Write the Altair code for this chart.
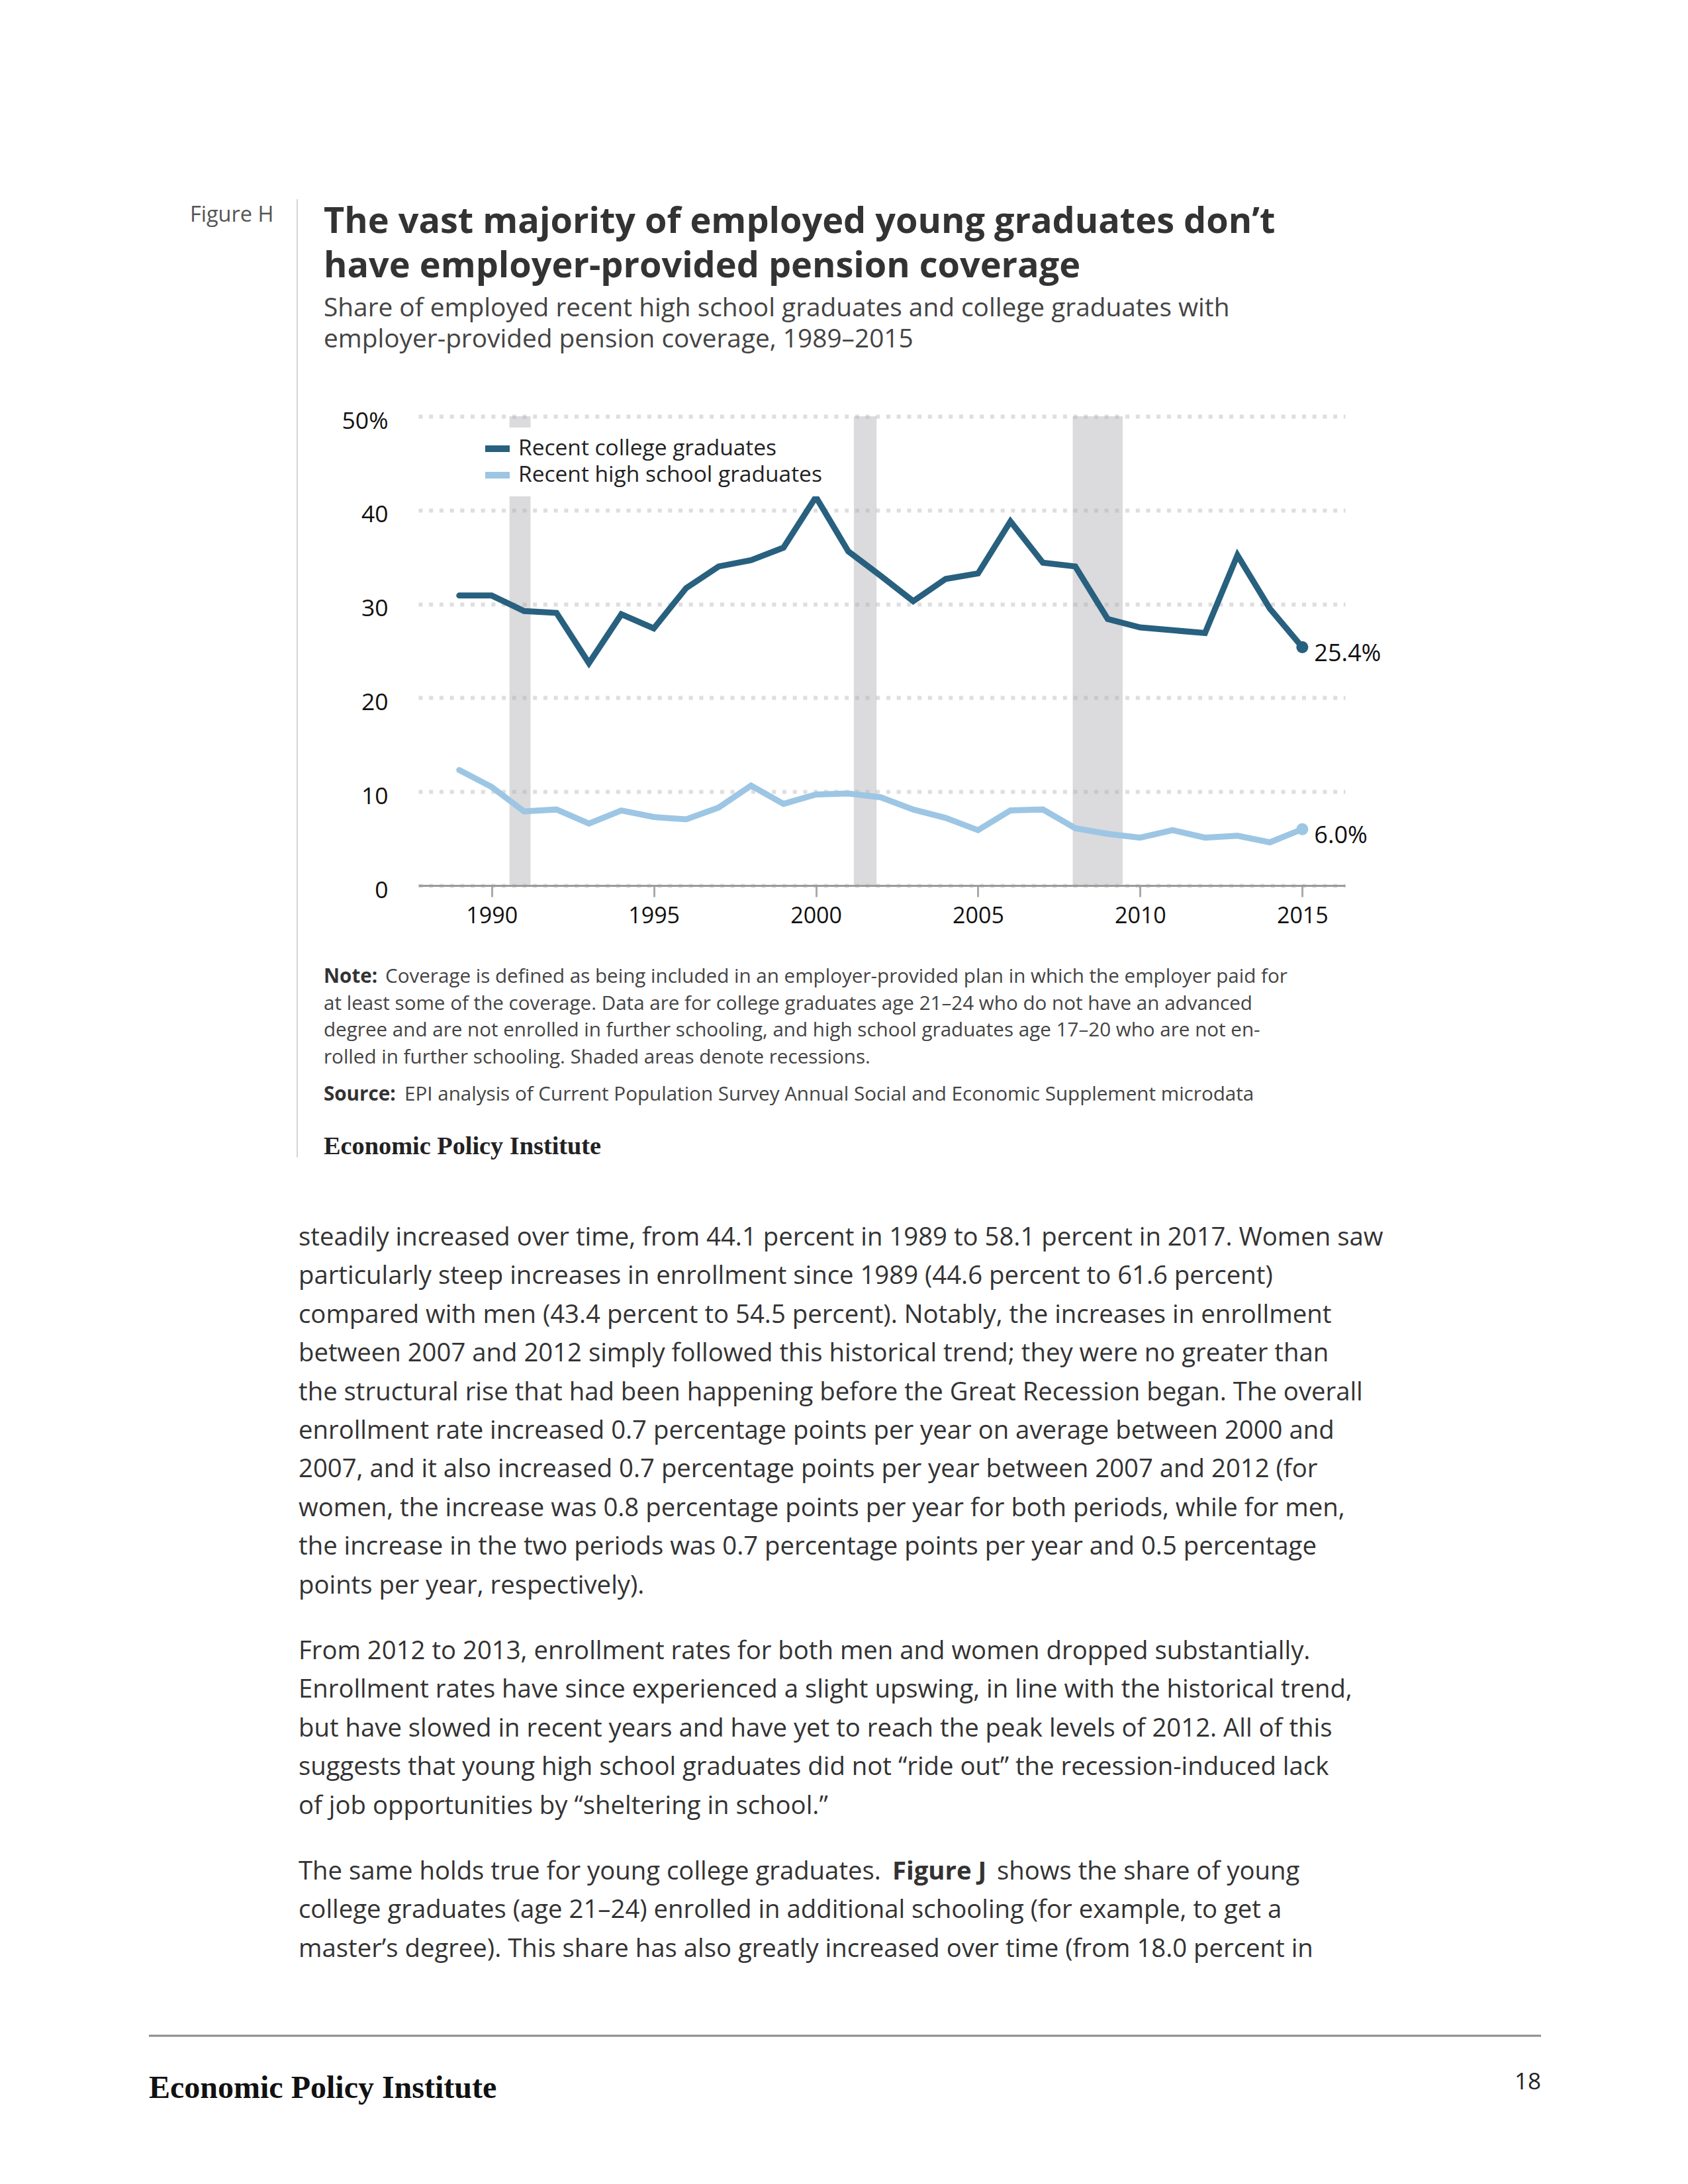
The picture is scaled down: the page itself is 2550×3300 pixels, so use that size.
import altair as alt
import pandas as pd

# ---------------- data ----------------
years = list(range(1989, 2016))
college = [30.9, 30.9, 29.25, 29.05, 23.7, 28.9, 27.4, 31.7, 34.0, 34.66, 36.0, 41.4,
           35.6, 33.0, 30.3, 32.66, 33.25, 38.8, 34.4, 34.0, 28.4, 27.5, 27.2, 26.9,
           35.2, 29.5, 25.4]
highschool = [12.3, 10.5, 7.9, 8.1, 6.6, 8.0, 7.3, 7.05, 8.3, 10.65, 8.7, 9.7,
              9.8, 9.4, 8.1, 7.2, 5.9, 8.0, 8.1, 6.1, 5.5, 5.1, 5.9, 5.1,
              5.3, 4.6, 6.0]
series_names = ["Recent college graduates", "Recent high school graduates"]
series_colors = ["#28607f", "#9cc6e4"]

recession_start = [1990.55, 2001.17, 2007.92]
recession_end = [1991.2, 2001.87, 2009.46]

x_ticks = [1990, 1995, 2000, 2005, 2010, 2015]
y_ticks = [0, 10, 20, 30, 40, 50]

figure_label = "Figure H"
title_lines = ["The vast majority of employed young graduates don’t",
               "have employer-provided pension coverage"]
subtitle_lines = ["Share of employed recent high school graduates and college graduates with",
                  "employer-provided pension coverage, 1989–2015"]
note_label = "Note:"
note_first = "Coverage is defined as being included in an employer-provided plan in which the employer paid for"
note_rest = ["at least some of the coverage. Data are for college graduates age 21–24 who do not have an advanced",
             "degree and are not enrolled in further schooling, and high school graduates age 17–20 who are not en-",
             "rolled in further schooling. Shaded areas denote recessions."]
source_label = "Source:"
source_text = "EPI analysis of Current Population Survey Annual Social and Economic Supplement microdata"
org_name = "Economic Policy Institute"

para1 = ["steadily increased over time, from 44.1 percent in 1989 to 58.1 percent in 2017. Women saw",
         "particularly steep increases in enrollment since 1989 (44.6 percent to 61.6 percent)",
         "compared with men (43.4 percent to 54.5 percent). Notably, the increases in enrollment",
         "between 2007 and 2012 simply followed this historical trend; they were no greater than",
         "the structural rise that had been happening before the Great Recession began. The overall",
         "enrollment rate increased 0.7 percentage points per year on average between 2000 and",
         "2007, and it also increased 0.7 percentage points per year between 2007 and 2012 (for",
         "women, the increase was 0.8 percentage points per year for both periods, while for men,",
         "the increase in the two periods was 0.7 percentage points per year and 0.5 percentage",
         "points per year, respectively)."]
para2 = ["From 2012 to 2013, enrollment rates for both men and women dropped substantially.",
         "Enrollment rates have since experienced a slight upswing, in line with the historical trend,",
         "but have slowed in recent years and have yet to reach the peak levels of 2012. All of this",
         "suggests that young high school graduates did not “ride out” the recession-induced lack",
         "of job opportunities by “sheltering in school.”"]
para3_a = "The same holds true for young college graduates. "
para3_bold = "Figure J"
para3_b = " shows the share of young"
para3_rest = ["college graduates (age 21–24) enrolled in additional schooling (for example, to get a",
              "master’s degree). This share has also greatly increased over time (from 18.0 percent in"]
page_number = "18"

# ---------------- tables ----------------
df = pd.DataFrame({
    "year": years * 2,
    "value": college + highschool,
    "series": [series_names[0]] * len(years) + [series_names[1]] * len(years),
})
rec = pd.DataFrame({"start": recession_start, "end": recession_end})
one = pd.DataFrame({"k": [0]})

FONT = "Open Sans"
SERIF = "Liberation Serif"

x_scale = alt.Scale(domain=[1987.74, 2016.32], nice=False, zero=False)
y_scale = alt.Scale(domain=[0, 50], nice=False)
x_axis = alt.Axis(values=x_ticks, format="d", title=None, grid=False, tickSize=17,
                  tickColor="#aaaaaa", tickWidth=3, domainColor="#9a9a9a", domainWidth=3,
                  labelFontSize=34, labelColor="#111111", labelPadding=12, labelFont=FONT)
y_axis = alt.Axis(values=y_ticks, title=None, domain=False, ticks=False, labelPadding=46,
                  labelFontSize=35.5, labelColor="#111111", labelFont=FONT, labelOffset=7,
                  labelExpr="datum.value == 50 ? '50%' : datum.label",
                  grid=True, gridColor="#dedede", gridWidth=6, gridDash=[6, 9.7])

color_scale = alt.Scale(domain=series_names, range=series_colors)

recessions = alt.Chart(rec).mark_rect(color="#a9a7ab", opacity=0.42).encode(
    x=alt.X("start:Q", scale=x_scale, axis=x_axis),
    x2="end:Q",
    y=alt.Y(datum=50, scale=y_scale, axis=y_axis),
    y2=alt.datum(0),
)

lines = alt.Chart(df).mark_line(strokeWidth=9, strokeCap="round", strokeJoin="miter").encode(
    x=alt.X("year:Q", scale=x_scale, axis=x_axis),
    y=alt.Y("value:Q", scale=y_scale, axis=y_axis),
    color=alt.Color("series:N", scale=color_scale, sort=series_names,
                    legend=alt.Legend(orient="none", legendX=84, legendY=17, title=None,
                                      fillColor="white", padding=12, symbolType="stroke",
                                      symbolStrokeWidth=10, symbolSize=1369,
                                      labelFontSize=33.5, labelFont=FONT, labelColor="#222222",
                                      clipHeight=40, rowPadding=0, labelOffset=8,
                                      labelLimit=800)),
    detail="series:N",
)

last = df[df["year"] == years[-1]]
points = alt.Chart(last).mark_point(filled=True, size=330, opacity=1, shape="circle").encode(
    x=alt.X("year:Q", scale=x_scale),
    y=alt.Y("value:Q", scale=y_scale),
    color=alt.Color("series:N", scale=color_scale, legend=None),
)
end_labels = alt.Chart(last).transform_calculate(
    lab="format(datum.value, '.1f') + '%'"
).mark_text(align="left", baseline="middle", dx=18, dy=10, fontSize=36, font=FONT,
            color="#111111").encode(
    x=alt.X("year:Q", scale=x_scale),
    y=alt.Y("value:Q", scale=y_scale),
    text="lab:N",
)


def txt(text, x, y, size, color="#333333", weight="normal", font=FONT, align="left",
        line_height=None):
    kw = dict(align=align, baseline="alphabetic", font=font, fontSize=size,
              fontWeight=weight, color=color)
    if line_height:
        kw["lineHeight"] = line_height
    return alt.Chart(one).mark_text(**kw).encode(
        x=alt.value(x), y=alt.value(y), text=alt.value(text))


BODY = 38.3
texts = [
    txt(figure_label, -345, -294, 32.5, color="#555555"),
    txt(title_lines, -143, -277, 54, color="#333333", weight="bold", line_height=67),
    txt(subtitle_lines, -143, -151, 38.8, color="#444444", line_height=47),
    txt(note_label, -143, 856, 29.6, color="#333333", weight="bold"),
    txt(note_first, -50, 856, 29.6, color="#444444"),
    txt(note_rest, -143, 896.7, 29.6, color="#444444", line_height=40.7),
    txt(source_label, -143, 1034, 29.6, color="#333333", weight="bold"),
    txt(source_text, -21, 1034, 29.6, color="#444444"),
    txt(org_name, -143, 1115, 38.3, color="#222222", weight="bold", font=SERIF),
    txt(para1, -181, 1253, BODY, color="#333333", line_height=58.4),
    txt(para2, -181, 1878, BODY, color="#333333", line_height=58.4),
    txt(para3_a, -181, 2211, BODY, color="#333333"),
    txt(para3_bold, 716, 2211, BODY, color="#333333", weight="bold"),
    txt(para3_b, 874, 2211, BODY, color="#333333"),
    txt(para3_rest, -181, 2269.4, BODY, color="#333333", line_height=58.4),
    txt(org_name, -407, 2541, 48, color="#111111", weight="bold", font=SERIF),
    txt(page_number, 1696, 2528, 35, color="#222222", align="right"),
]

separator = alt.Chart(one).mark_rule(color="#d4d4d4", strokeWidth=2).encode(
    x=alt.value(-183), y=alt.value(-328), y2=alt.value(1120))
footer_rule = alt.Chart(one).mark_rule(color="#8a8a8a", strokeWidth=3).encode(
    x=alt.value(-407), x2=alt.value(1696), y=alt.value(2447))

chart = alt.layer(recessions, lines, points, end_labels, separator, footer_rule, *texts).properties(
    width=1400,
    height=709,
    padding={"left": 624, "top": 621, "right": 510, "bottom": 1954},
    autosize=alt.AutoSizeParams(type="none"),
    background="white",
).configure_view(stroke=None)

chart.save("out.html", embed_options={"renderer": "svg", "actions": False})
